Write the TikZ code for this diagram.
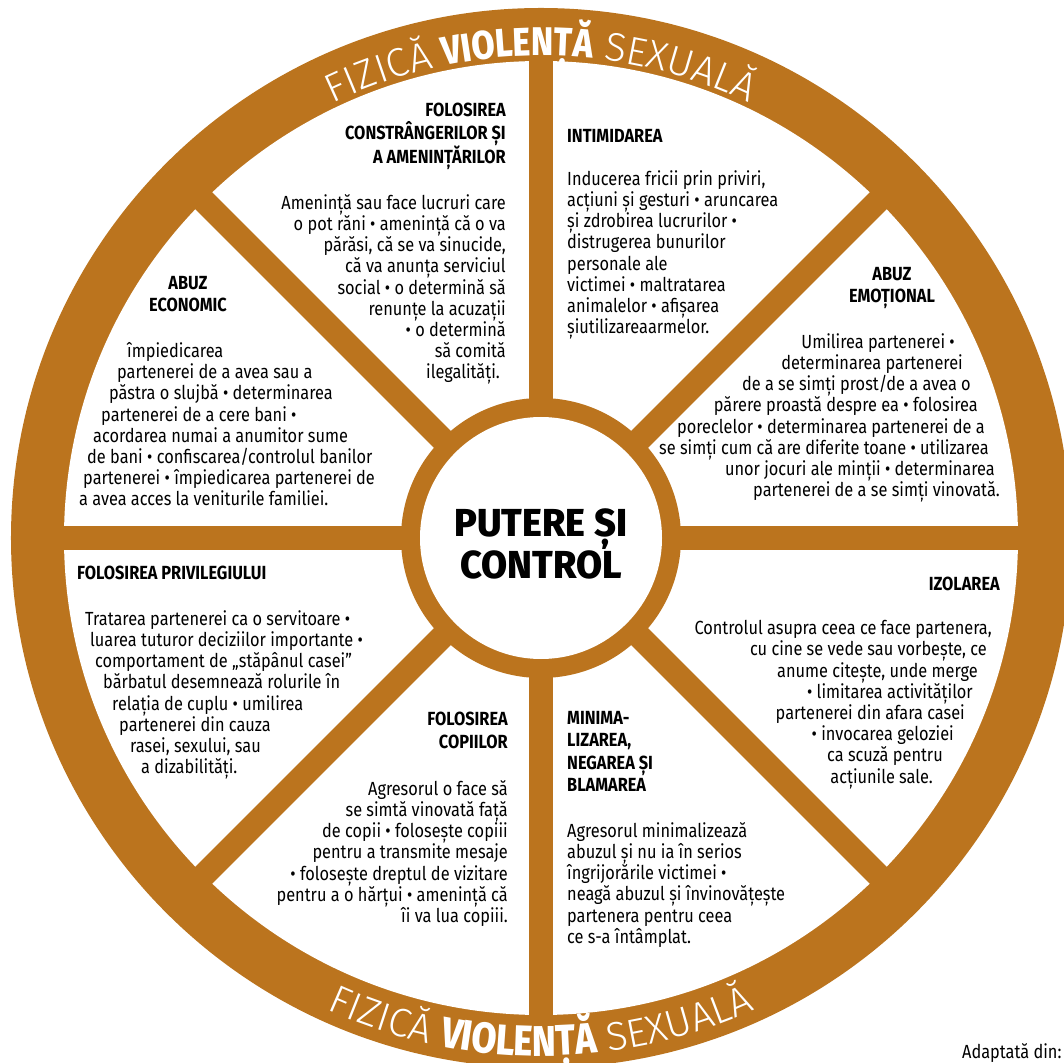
\documentclass[tikz,border=0pt]{standalone}
\usepackage{fontspec}
\usetikzlibrary{decorations.text}
\setmainfont{Fira Sans}[FakeStretch=0.86]
\newfontfamily\lightfont{Fira Sans Light}
\newfontfamily\heavyfont{Fira Sans ExtraBold}[FakeStretch=0.84]
\newfontfamily\hubfont{Fira Sans ExtraBold}[FakeStretch=0.97]

\definecolor{wheel}{RGB}{187,116,30}
\newcommand\gap[1]{\makebox[#1pt]{}}
\newcommand\arclight{\lightfont\fontsize{40}{40}\selectfont\color{white}}
\newcommand\archeavy{\heavyfont\fontsize{40}{40}\selectfont\color{white}}
\newcommand\arctall{\heavyfont\fontsize{43}{43}\selectfont\color{white}}

\tikzset{spoke/.style={line width=24pt,wheel}}
\tikzset{head/.style={font=\fontsize{19}{22.5}\selectfont\bfseries,inner sep=0pt,execute at begin node=\strut}}
\tikzset{body/.style={font=\fontsize{19}{21.2}\selectfont,inner sep=0pt,execute at begin node=\strut}}

\begin{document}
\begin{tikzpicture}[x=1pt,y=1pt]
        \clip (-541,-524) rectangle (523,538);
        % draw the wheel
        \fill[wheel] (0,0) circle[radius=530pt];
        \fill[white] (0,0) circle[radius=477pt];
        % draw the spokes
        \draw[spoke] (0:490pt) -- (180:490pt);
        \draw[spoke] (90:490pt) -- (270:490pt);
        \draw[spoke] (45:490pt) -- (225:490pt);
        \draw[spoke] (135:490pt) -- (315:490pt);
        % draw the hub
        \fill[wheel] (0,0) circle[radius=140pt];
        \fill[white] (0,0) circle[radius=121pt];
        \node [head,font=\hubfont\fontsize{39}{37}\selectfont,align=center,anchor=north] (hub) at (0,29.1) {PUTERE ȘI\\CONTROL};

        % text on the rim
        \path[postaction={decorate},decoration={text along path,text align=center,
            text={|\arclight|FIZICĂ |\archeavy|VIOLENȚĂ|\arclight| SEXUALĂ}}]
            (150:482pt) arc[start angle=150,end angle=30,radius=482pt];
        \path[postaction={decorate},decoration={text along path,text align=center,
            text={|\arclight|FIZICĂ |\arctall|VIOLENȚĂ|\arclight| SEXUALĂ}}]
            (220:518pt) arc[start angle=220,end angle=320,radius=518pt];

        % upper left
        \node [head,align=right,anchor=north east] (constr) at (-35,435) {FOLOSIREA\\CONSTRÂNGERILOR ȘI\\A AMENINȚĂRILOR};
        \node [body,align=right,anchor=north east] (constrtxt) at (-35,343.8) {Amenință sau face lucruri care\\o pot răni • amenință că o va\\părăsi, că se va sinucide,\\că va anunța serviciul\\social • o determină să\\renunțe la acuzații\\• o determină\\să comită\\ilegalități.\gap{6}};
        \node [head,align=center,anchor=north] (econ) at (-353,261.9) {ABUZ\\ECONOMIC};
        \node [body,align=left,anchor=north west] (econtxt) at (-462,195.8) {\gap{48}împiedicarea\\\gap{38}partenerei de a avea sau a\\\gap{30}păstra o slujbă • determinarea\\\gap{22}partenerei de a cere bani •\\\gap{14}acordarea numai a anumitor sume\\\gap{8}de bani • confiscarea/controlul banilor\\\gap{4}partenerei • împiedicarea partenerei de\\a avea acces la veniturile familiei.};

        % upper right
        \node [head,align=left,anchor=north west] (intim) at (26,411.9) {INTIMIDAREA};
        \node [body,align=left,anchor=north west] (intimtxt) at (26,367.8) {Inducerea fricii prin priviri,\\acțiuni și gesturi • aruncarea\\și zdrobirea lucrurilor •\\distrugerea bunurilor\\personale ale\\victimei • maltratarea\\animalelor • afișarea\\șiutilizareaarmelor.};
        \node [head,align=center,anchor=north] (emot) at (351,270.9) {ABUZ\\EMOȚIONAL};
        \node [body,align=right,anchor=north east] (emottxt) at (459,204.8) {Umilirea partenerei •\gap{45}\\determinarea partenerei\gap{37}\\de a se simți prost/de a avea o\gap{29}\\părere proastă despre ea • folosirea\gap{22}\\poreclelor • determinarea partenerei de a\gap{15}\\se simți cum că are diferite toane • utilizarea\gap{11}\\unor jocuri ale minții • determinarea\gap{5}\\partenerei de a se simți vinovată.};

        % lower left
        \node [head,align=left,anchor=north west] (privil) at (-464,-25.1) {FOLOSIREA PRIVILEGIULUI};
        \node [body,align=left,anchor=north west] (privtxt) at (-456,-72.2) {Tratarea partenerei ca o servitoare •\\\gap{5}luarea tuturor deciziilor importante •\\\gap{10}comportament de „stăpânul casei”\\\gap{18}bărbatul desemnează rolurile în\\\gap{27}relația de cuplu • umilirea\\\gap{34}partenerei din cauza\\\gap{45}rasei, sexului, sau\\\gap{56}a dizabilități.};
        \node [head,align=right,anchor=north east] (copii) at (-33,-174.1) {FOLOSIREA\\COPIILOR};
        \node [body,align=right,anchor=north east] (copiitxt) at (-33,-242.2) {Agresorul o face să\\se simtă vinovată față\\de copii • folosește copiii\\pentru a transmite mesaje\\• folosește dreptul de vizitare\\pentru a o hărțui • amenință că\\îi va lua copiii.};

        % lower right
        \node [head,align=left,anchor=north west] (minim) at (26,-173.1) {MINIMA-\\LIZAREA,\\NEGAREA ȘI\\BLAMAREA};
        \node [body,align=left,anchor=north west] (minimtxt) at (26,-284.2) {Agresorul minimalizează\\abuzul și nu ia în serios\\îngrijorările victimei •\\neagă abuzul și învinovățește\\partenera pentru ceea\\ce s-a întâmplat.};
        \node [head,align=right,anchor=north east] (izol) at (459,-36.1) {IZOLAREA};
        \node [body,align=right,anchor=north east] (izoltxt) at (451,-82.2) {Controlul asupra ceea ce face partenera,\\cu cine se vede sau vorbește, ce\gap{5}\\anume citește, unde merge\gap{14}\\• limitarea activităților\gap{19}\\partenerei din afara casei\gap{27}\\• invocarea geloziei\gap{38}\\ca scuză pentru\gap{49}\\acțiunile sale.\gap{59}};

        \node [body,anchor=base west,execute at begin node={}] (src) at (421,-520) {Adaptată din:};
\end{tikzpicture}
\end{document}
